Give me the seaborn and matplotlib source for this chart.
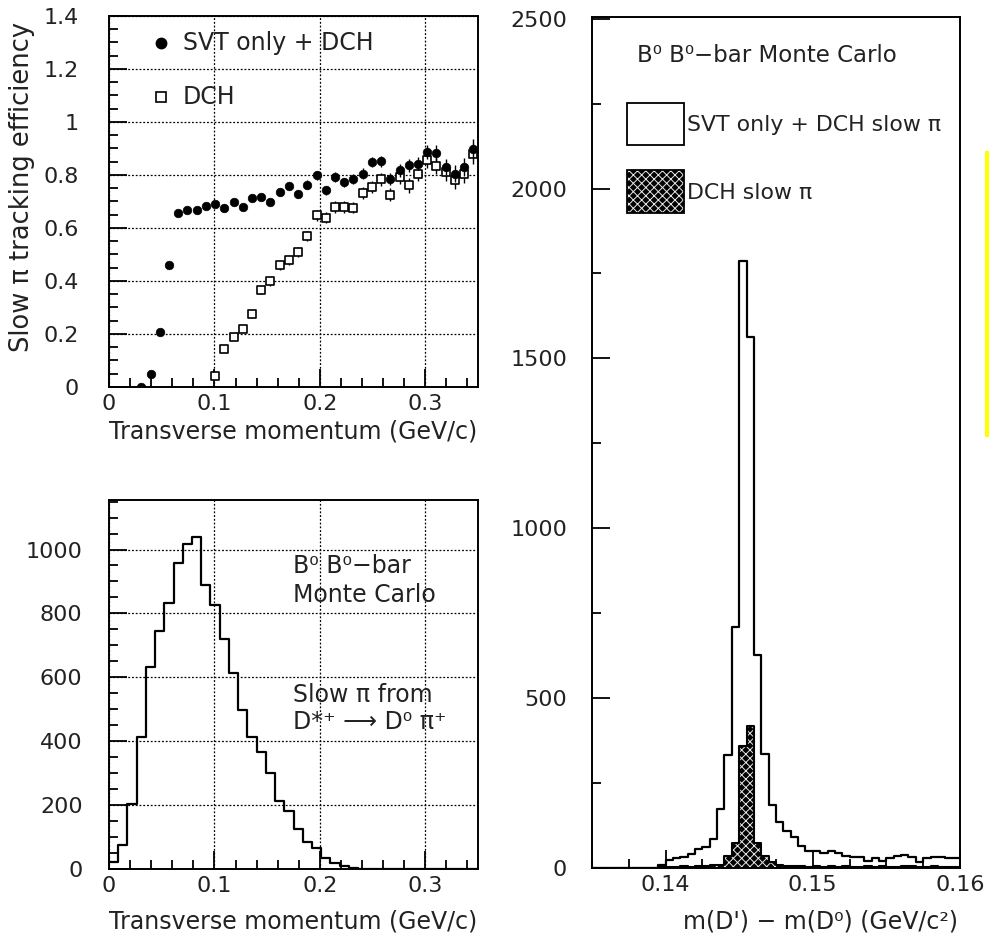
import numpy as np
import pandas as pd
import matplotlib
matplotlib.use("Agg")
import matplotlib.pyplot as plt
import seaborn as sns
from matplotlib.patches import Rectangle
from matplotlib.lines import Line2D
from matplotlib.ticker import FixedLocator, MultipleLocator

# ---------------- data ----------------
# transverse-momentum binning (40 bins, 0 - 0.35 GeV/c)
pt_edges = list(np.linspace(0.0, 0.35, 41))
pt_centers = [0.5 * (a + b) for a, b in zip(pt_edges[:-1], pt_edges[1:])]

# efficiency: SVT only + DCH (bins 3..39)
svt_first_bin = 3
svt_eff = [0.0, 0.05, 0.207, 0.46, 0.657, 0.667, 0.667, 0.683, 0.692, 0.677,
           0.698, 0.679, 0.714, 0.717, 0.698, 0.736, 0.757, 0.727, 0.764, 0.799,
           0.742, 0.792, 0.772, 0.786, 0.805, 0.849, 0.852, 0.786, 0.818, 0.836,
           0.843, 0.887, 0.883, 0.830, 0.805, 0.830, 0.899]
svt_err = [0.004, 0.006, 0.008, 0.01, 0.01, 0.01, 0.01, 0.01, 0.01, 0.012,
           0.012, 0.012, 0.012, 0.013, 0.013, 0.014, 0.014, 0.015, 0.016, 0.016,
           0.017, 0.018, 0.018, 0.019, 0.02, 0.02, 0.021, 0.022, 0.024, 0.025,
           0.026, 0.028, 0.03, 0.03, 0.032, 0.034, 0.036]

# efficiency: DCH (bins 11..39)
dch_first_bin = 11
dch_eff = [0.04, 0.145, 0.19, 0.22, 0.277, 0.367, 0.399, 0.459, 0.478, 0.509,
           0.569, 0.648, 0.639, 0.679, 0.679, 0.677, 0.732, 0.755, 0.784, 0.726,
           0.792, 0.761, 0.805, 0.855, 0.834, 0.811, 0.780, 0.805, 0.880]
dch_err = [0.01, 0.012, 0.013, 0.014, 0.015, 0.015, 0.016, 0.017, 0.017, 0.018,
           0.019, 0.02, 0.02, 0.021, 0.022, 0.022, 0.023, 0.024, 0.025, 0.026,
           0.027, 0.028, 0.029, 0.03, 0.031, 0.032, 0.034, 0.036, 0.038]

# slow pion pt spectrum (counts per bin, 40 bins)
pt_counts = [23, 75, 202, 414, 633, 746, 833, 959, 1017, 1040,
             888, 826, 720, 614, 497, 414, 367, 301, 214, 181,
             124, 86, 65, 33, 18, 9, 2, 0, 0, 0,
             0, 0, 0, 0, 0, 0, 0, 0, 0, 0]

# mass-difference binning (50 bins, 0.135 - 0.160 GeV/c^2)
dm_edges = list(np.linspace(0.135, 0.160, 51))
dm_centers = [0.5 * (a + b) for a, b in zip(dm_edges[:-1], dm_edges[1:])]
dm_all = [0, 0, 0, 0, 0, 0, 0, 0, 0, 8,
          24, 30, 32, 40, 57, 63, 86, 175, 333, 710,
          1786, 1563, 627, 336, 184, 134, 110, 90, 66, 51,
          51, 44, 51, 44, 36, 31, 31, 22, 28, 22,
          28, 36, 38, 31, 19, 28, 31, 31, 28, 28]
dm_dch = [0, 0, 0, 0, 0, 0, 0, 0, 0, 2,
          4, 3, 5, 4, 6, 6, 8, 10, 36, 75,
          360, 418, 75, 36, 17, 8, 6, 5, 6, 4,
          5, 3, 6, 4, 5, 3, 4, 6, 3, 5,
          4, 3, 5, 6, 4, 3, 5, 4, 3, 4]

df_pt = pd.DataFrame({"pt": pt_centers, "n": pt_counts})
df_dm = pd.DataFrame({"dm": dm_centers, "all": dm_all, "dch": dm_dch})

# ---------------- figure ----------------
sns.set_theme(style="white")
plt.rcParams["font.family"] = ["DejaVu Sans"]
plt.rcParams["hatch.linewidth"] = 0.7

TXT = 17
TICK = 16
TCOL = "#222222"

W, H = 989, 935
fig = plt.figure(figsize=(W / 100, H / 100), dpi=100)


def axes_px(l, t, r, b):
    return fig.add_axes([l / W, 1 - b / H, (r - l) / W, (b - t) / H])


def fpx(x, y):
    return (x / W, 1 - y / H)


def style(ax, grid, ypad, xpad=5):
    for s in ax.spines.values():
        s.set_visible(True)
        s.set_linewidth(1.4)
        s.set_color("black")
    ax.tick_params(which="both", direction="in", bottom=True, left=True,
                   top=False, right=False, color="black", labelcolor=TCOL,
                   labelsize=TICK, width=1.3)
    ax.tick_params(which="major", length=13)
    ax.tick_params(which="minor", length=6.5)
    ax.tick_params(axis="y", which="both", pad=ypad)
    ax.tick_params(axis="x", which="both", pad=xpad)
    if grid:
        ax.grid(True, which="major", color="black", linestyle=(0, (1.5, 1.5)),
                linewidth=0.9)
    else:
        ax.grid(False)
    ax.set_xlabel("")
    ax.set_ylabel("")


ax1 = axes_px(109, 16, 478, 387)
ax2 = axes_px(109, 500, 478, 869)
ax3 = axes_px(592, 17, 960, 868)

# ---- top-left: efficiency ----
svt_x = pt_centers[svt_first_bin:svt_first_bin + len(svt_eff)]
dch_x = pt_centers[dch_first_bin:dch_first_bin + len(dch_eff)]
df_svt = pd.DataFrame({"pt": svt_x, "eff": svt_eff, "err": svt_err})
df_dch = pd.DataFrame({"pt": dch_x, "eff": dch_eff, "err": dch_err})

ax1.errorbar(df_dch["pt"], df_dch["eff"], yerr=df_dch["err"], fmt="none",
             ecolor="black", elinewidth=1.0, capsize=0, zorder=3)
sns.scatterplot(data=df_dch, x="pt", y="eff", marker="s", s=40,
                color="white", edgecolor="black", linewidth=1.2, ax=ax1, zorder=4)
ax1.errorbar(df_svt["pt"], df_svt["eff"], yerr=df_svt["err"], fmt="none",
             ecolor="black", elinewidth=1.0, capsize=0, zorder=5)
sns.scatterplot(data=df_svt, x="pt", y="eff", marker="o", s=38,
                color="black", edgecolor="black", linewidth=0.5, ax=ax1, zorder=6)
ax1.set_xlim(0, 0.35)
ax1.set_ylim(0, 1.4)
style(ax1, True, ypad=22)
ax1.xaxis.set_major_locator(FixedLocator([0, 0.1, 0.2, 0.3]))
ax1.set_xticklabels(["0", "0.1", "0.2", "0.3"])
ax1.xaxis.set_minor_locator(MultipleLocator(0.02))
ax1.yaxis.set_major_locator(FixedLocator([0, 0.2, 0.4, 0.6, 0.8, 1.0, 1.2, 1.4]))
ax1.set_yticklabels(["0", "0.2", "0.4", "0.6", "0.8", "1", "1.2", "1.4"])
ax1.yaxis.set_minor_locator(MultipleLocator(0.05))

# legend of top-left
fig.add_artist(Line2D([161 / W], [1 - 43 / H], transform=fig.transFigure,
                      marker="o", markersize=7.5, color="black", linestyle="none"))
fig.text(*fpx(183, 43), "SVT only + DCH", fontsize=TXT, va="center", ha="left",
         color=TCOL)
fig.add_artist(Line2D([161 / W], [1 - 97 / H], transform=fig.transFigure,
                      marker="s", markersize=7.5, markerfacecolor="white",
                      markeredgecolor="black", markeredgewidth=1.2,
                      linestyle="none"))
fig.text(*fpx(183, 97), "DCH", fontsize=TXT, va="center", ha="left",
         color=TCOL)
fig.text(*fpx(22, 187), "Slow π tracking efficiency", fontsize=18.5,
         rotation=90, va="center", ha="center", color=TCOL)
fig.text(*fpx(477, 432), "Transverse momentum (GeV/c)", fontsize=TXT,
         va="center", ha="right", color=TCOL)

# ---- bottom-left: pt spectrum ----
sns.histplot(data=df_pt, x="pt", weights="n", bins=pt_edges, element="step",
             fill=False, color="black", linewidth=1.6, ax=ax2)
ax2.set_xlim(0, 0.35)
ax2.set_ylim(0, 1155)
style(ax2, True, ypad=19)
ax2.xaxis.set_major_locator(FixedLocator([0, 0.1, 0.2, 0.3]))
ax2.set_xticklabels(["0", "0.1", "0.2", "0.3"])
ax2.xaxis.set_minor_locator(MultipleLocator(0.02))
ax2.yaxis.set_major_locator(FixedLocator([0, 200, 400, 600, 800, 1000]))
ax2.set_yticklabels(["0", "200", "400", "600", "800", "1000"])
ax2.yaxis.set_minor_locator(MultipleLocator(50))

fig.text(*fpx(293, 566), "B⁰ B⁰−bar", fontsize=TXT, va="center", ha="left",
         color=TCOL)
fig.text(*fpx(293, 595), "Monte Carlo", fontsize=TXT, va="center", ha="left",
         color=TCOL)
fig.text(*fpx(293, 695), "Slow π from", fontsize=TXT, va="center", ha="left",
         color=TCOL)
fig.text(*fpx(293, 722), "D*⁺ ⟶ D⁰ π⁺", fontsize=TXT, va="center", ha="left",
         color=TCOL)
fig.text(*fpx(477, 921), "Transverse momentum (GeV/c)", fontsize=TXT,
         va="center", ha="right", color=TCOL)

# ---- right: mass difference ----
sns.histplot(data=df_dm, x="dm", weights="dch", bins=dm_edges, element="step",
             fill=True, color="black", alpha=1.0, linewidth=0, ax=ax3)
filled = ax3.collections[-1]
filled.set_facecolor("#000000")
filled.set_edgecolor("#e8e8e8")
filled.set_hatch("xxxx")
filled.set_linewidth(0)
sns.histplot(data=df_dm, x="dm", weights="dch", bins=dm_edges, element="step",
             fill=False, color="black", linewidth=1.5, ax=ax3)
sns.histplot(data=df_dm, x="dm", weights="all", bins=dm_edges, element="step",
             fill=False, color="black", linewidth=1.6, ax=ax3)
ax3.set_xlim(0.135, 0.160)
ax3.set_ylim(0, 2505)
style(ax3, False, ypad=18)
ax3.xaxis.set_major_locator(FixedLocator([0.14, 0.15, 0.16]))
ax3.set_xticklabels(["0.14", "0.15", "0.16"])
ax3.xaxis.set_minor_locator(MultipleLocator(0.0025))
ax3.yaxis.set_major_locator(FixedLocator([0, 500, 1000, 1500, 2000, 2500]))
ax3.set_yticklabels(["0", "500", "1000", "1500", "2000", "2500"])
ax3.yaxis.set_minor_locator(MultipleLocator(250))

fig.text(*fpx(637, 55), "B⁰ B⁰−bar Monte Carlo", fontsize=16.5, va="center",
         ha="left", color=TCOL)
fig.add_artist(Rectangle(fpx(627, 145), 57 / W, 42 / H, transform=fig.transFigure,
                         facecolor="white", edgecolor="black", linewidth=1.3))
fig.text(*fpx(687, 125), "SVT only + DCH slow π", fontsize=15.8, va="center",
         ha="left", color=TCOL)
fig.add_artist(Rectangle(fpx(627, 213), 57 / W, 43 / H, transform=fig.transFigure,
                         facecolor="#000000", edgecolor="#e8e8e8", hatch="xxxx",
                         linewidth=0))
fig.add_artist(Rectangle(fpx(627, 213), 57 / W, 43 / H, transform=fig.transFigure,
                         facecolor="none", edgecolor="black", linewidth=1.3))
fig.text(*fpx(687, 193), "DCH slow π", fontsize=15.8, va="center", ha="left",
         color=TCOL)
fig.text(*fpx(958, 921), "m(D') − m(D⁰) (GeV/c²)", fontsize=TXT, va="center",
         ha="right", color=TCOL)

# yellow marker bar at right edge
fig.add_artist(Rectangle(fpx(985, 437), 4 / W, 286 / H, transform=fig.transFigure,
                         facecolor="#ffff00", edgecolor="none"))

fig.savefig("out.png", dpi=100, facecolor="white")
